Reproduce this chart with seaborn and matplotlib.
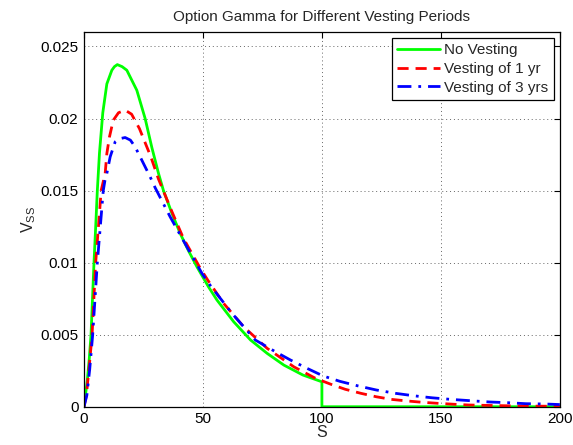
import matplotlib
matplotlib.use("Agg")
import matplotlib.pyplot as plt
import seaborn as sns
import pandas as pd

# ---- data ----
s_none = [0, 1.4, 2.2, 2.95, 3.6, 4.2, 5.0, 5.6, 6.5, 7.9, 9.6, 11.7, 12.8, 14.0, 16.0, 18.0,
          22.2, 25.7, 28.5, 31.3, 33.4, 37.0, 40.5, 44.0, 47.5, 52.4, 55.9, 62.9, 70.0, 77.0,
          84.0, 92.0, 100.0, 100.0, 200.0]
v_none = [0, 0.00185, 0.0033, 0.005, 0.0076, 0.0100, 0.0128, 0.0150, 0.0176, 0.0204, 0.0224,
          0.02335, 0.0236, 0.02374, 0.0236, 0.02335, 0.02196, 0.0200, 0.0180, 0.0162, 0.0150,
          0.0134, 0.0120, 0.0108, 0.0097, 0.0083, 0.0074, 0.0059, 0.00463, 0.0037, 0.00289,
          0.0022, 0.00173, 0.0, 0.0]

s_1yr = [0, 1.0, 2.2, 3.4, 4.9, 6.5, 7.2, 8.9, 9.6, 10.7, 12.3, 14.5, 17.3, 20.0, 23.3, 28.1,
         31.3, 37.0, 41.8, 48.9, 52.0, 58.7, 67.1, 77.0, 88.2, 97.3, 103.9, 109.8, 116.4, 122.9,
         129.2, 135.8, 142.1, 148.4, 155.6, 161.7, 170.0, 180.0, 190.0, 200.0]
v_1yr = [0, 0.0008, 0.0028, 0.005, 0.0100, 0.0134, 0.0150, 0.01619, 0.01757, 0.01872, 0.01988,
         0.0204, 0.02058, 0.0203, 0.0193, 0.01734, 0.0158, 0.01352, 0.01168, 0.0096, 0.00879,
         0.00717, 0.00555, 0.00405, 0.00277, 0.00197, 0.00155, 0.00121, 0.00093, 0.00069,
         0.00051, 0.0004, 0.00031, 0.00024, 0.00017, 0.00012, 0.00009, 0.00006, 0.00004, 0.00003]

s_3yr = [0, 1.2, 2.4, 3.65, 5.6, 7.0, 8.1, 8.8, 9.6, 11.0, 13.1, 15.0, 17.3, 19.5, 21.5, 24.3,
         27.8, 29.9, 36.2, 44.0, 49.6, 52.4, 62.2, 72.0, 80.5, 86.8, 93.8, 100.6, 107.6, 115.3,
         122.9, 130.9, 138.6, 146.3, 154.2, 162.3, 170.3, 178.1, 185.8, 193.8, 200.0]
v_3yr = [0, 0.0008, 0.0026, 0.005, 0.0100, 0.0128, 0.0150, 0.0157, 0.01619, 0.01734, 0.01838,
         0.0186, 0.01868, 0.0185, 0.01803, 0.01711, 0.01595, 0.0152, 0.01318, 0.01087, 0.00925,
         0.00856, 0.00648, 0.00463, 0.00381, 0.00324, 0.00266, 0.00213, 0.00176, 0.00144,
         0.00116, 0.00093, 0.00076, 0.00062, 0.00051, 0.00042, 0.00033, 0.00028, 0.00021,
         0.00019, 0.00015]

labels = ["No Vesting", "Vesting of 1 yr", "Vesting of 3 yrs"]
x_ticks = [0, 50, 100, 150, 200]
y_ticks = [0, 0.005, 0.01, 0.015, 0.02, 0.025]
y_tick_labels = ["0", "0.005", "0.01", "0.015", "0.02", "0.025"]

# ---- styling ----
sns.set_style("white")
plt.rcParams["font.family"] = ["Liberation Sans", "DejaVu Sans"]
plt.rcParams["mathtext.default"] = "regular"

fig = plt.figure(figsize=(5.73, 4.45), dpi=100)
ax = fig.add_axes([0.1466, 0.086, 0.8304, 0.842])

series = [(s_none, v_none, "#00ff00", "-", labels[0]),
          (s_1yr, v_1yr, "#ff0000", (0, (4, 2.5)), labels[1]),
          (s_3yr, v_3yr, "#0000ff", (0, (5, 2.5, 1, 2.5)), labels[2])]

for s, v, c, ls, lab in series:
    df = pd.DataFrame({"S": s, "V": v})
    sns.lineplot(data=df, x="S", y="V", ax=ax, color=c, linewidth=2.0,
                 linestyle=ls, sort=False, estimator=None, label=lab)

ax.set_xlim(0, 200)
ax.set_ylim(0, 0.026)
ax.set_xticks(x_ticks)
ax.set_xticklabels([str(t) for t in x_ticks])
ax.set_yticks(y_ticks)
ax.set_yticklabels(y_tick_labels)
ax.tick_params(direction="in", length=4, width=0.8, top=True, right=True,
               labelsize=11, colors="black", pad=4)
ax.grid(True, linestyle=(0, (1, 3)), color="#666666", linewidth=0.7)
for sp in ax.spines.values():
    sp.set_visible(True)
    sp.set_color("black")
    sp.set_linewidth(0.9)

ax.set_xlabel("S", fontsize=11.5, labelpad=-1)
ax.set_ylabel("$V_{SS}$", fontsize=11.5, labelpad=2)
ax.set_title("Option Gamma for Different Vesting Periods", fontsize=11, pad=8)

leg = ax.legend(loc="upper right", fontsize=11, frameon=True, fancybox=False,
                edgecolor="black", handlelength=2.8, borderpad=0.35, labelspacing=0.3,
                handletextpad=0.3, borderaxespad=0.4)
leg.get_frame().set_linewidth(0.9)
leg.get_frame().set_alpha(1)

fig.savefig("out.png", dpi=100)
